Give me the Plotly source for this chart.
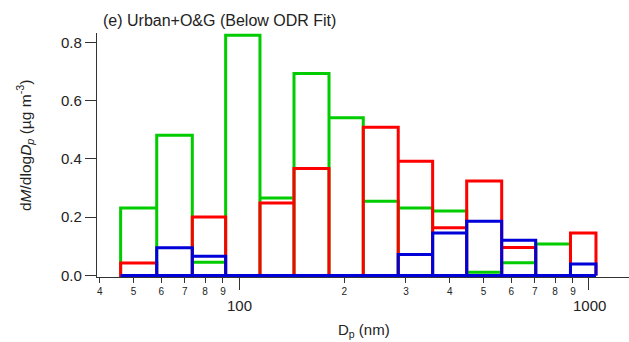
import plotly.graph_objects as go
import math

# Bin edges (nm) and values (dM/dlogDp, ug m-3)
bin_edges = [45.9, 58.2, 73.55, 91.6, 114.8, 143.6, 180.8, 226.5, 285.1, 357.5,
             447.3, 563.1, 704.4, 885.3, 1047.0]
green_vals = [0.232, 0.481, 0.046, 0.824, 0.266, 0.693, 0.541, 0.255, 0.232, 0.221,
              0.011, 0.044, 0.108, 0.0]
red_vals = [0.043, 0.0, 0.201, 0.0, 0.249, 0.367, 0.0, 0.509, 0.392, 0.164,
            0.324, 0.096, 0.0, 0.146]
blue_vals = [0.0, 0.095, 0.066, 0.0, 0.0, 0.0, 0.0, 0.0, 0.072, 0.146,
             0.186, 0.121, 0.0, 0.040]

minor_tick_vals = [40, 50, 60, 70, 80, 90, 200, 300, 400, 500, 600, 700, 800, 900]
minor_tick_text = ["4", "5", "6", "7", "8", "9", "2", "3", "4", "5", "6", "7", "8", "9"]
major_tick_vals = [100, 1000]
major_tick_text = ["100", "1000"]
y_tick_vals = [0.0, 0.2, 0.4, 0.6, 0.8]

series = [("green", green_vals, "#00CC00"),
          ("red", red_vals, "#FF0000"),
          ("blue", blue_vals, "#0000D8")]

FONT = "Liberation Sans, Arial, sans-serif"
TXT = "#222222"

fig = go.Figure()
for name, vals, col in series:
    # baseline first (closes the bottom of every bar), then bar outlines
    xs, ys = [bin_edges[-1], bin_edges[0]], [0, 0]
    for i, v in enumerate(vals):
        xs += [bin_edges[i], bin_edges[i], bin_edges[i + 1], bin_edges[i + 1]]
        ys += [0, v, v, 0]
    fig.add_trace(go.Scatter(x=xs, y=ys, mode="lines", name=name,
                             line=dict(color=col, width=3), showlegend=False,
                             hoverinfo="skip"))

W, H = 629, 342
ml, mr, mt, mb = 97, 0, 33, 65
pw, ph = W - ml - mr, H - mt - mb

def px_x(px):
    return (px - ml) / pw

def px_y(py):
    return (H - mb - py) / ph

fig.update_layout(
    width=W, height=H,
    margin=dict(l=ml, r=mr, t=mt, b=mb, pad=0),
    paper_bgcolor="white", plot_bgcolor="white",
    font=dict(family=FONT, color=TXT),
    xaxis=dict(type="log", range=[1.5943, 3.1143],
               showgrid=False, zeroline=False,
               showline=True, linecolor="#333333", linewidth=1.3,
               ticks="outside", ticklen=5, tickwidth=1.3, tickcolor="#333333",
               tickmode="array", tickvals=minor_tick_vals, ticktext=minor_tick_text,
               tickfont=dict(size=10, family=FONT, color=TXT),
               minor=dict(tickmode="array", tickvals=major_tick_vals, ticklen=12,
                          tickwidth=1.3, tickcolor="#333333", ticks="outside",
                          showgrid=False)),
    yaxis=dict(range=[-0.005, 0.832],
               showgrid=False, zeroline=False,
               showline=True, linecolor="#333333", linewidth=1.3,
               ticks="outside", ticklen=11, tickwidth=1.3, tickcolor="#333333",
               tickmode="array", tickvals=y_tick_vals, tickformat=".1f",
               tickfont=dict(size=15, family=FONT, color=TXT)),
)

for v, t in zip(major_tick_vals, major_tick_text):
    fig.add_annotation(x=math.log10(v), xref="x", y=px_y(305.5), yref="paper",
                       text=t, showarrow=False, xanchor="center", yanchor="middle",
                       font=dict(size=15, family=FONT, color=TXT))

fig.add_annotation(x=px_x(101), y=px_y(21), xref="paper", yref="paper",
                   text="(e) Urban+O&amp;G (Below ODR Fit)", showarrow=False,
                   xanchor="left", yanchor="middle",
                   font=dict(size=16, family=FONT, color=TXT))

fig.add_annotation(x=px_x(364), y=px_y(330), xref="paper", yref="paper",
                   text="D<sub>p</sub> (nm)", showarrow=False,
                   xanchor="center", yanchor="middle",
                   font=dict(size=15, family=FONT, color=TXT))

fig.add_annotation(x=px_x(25), y=px_y(146), xref="paper", yref="paper",
                   text="d<i>M</i>/dlog<i>D<sub>p</sub></i> (µg m<sup>-3</sup>)",
                   textangle=-90, showarrow=False,
                   xanchor="center", yanchor="middle",
                   font=dict(size=15.5, family=FONT, color=TXT))

fig.write_html("out.html")
